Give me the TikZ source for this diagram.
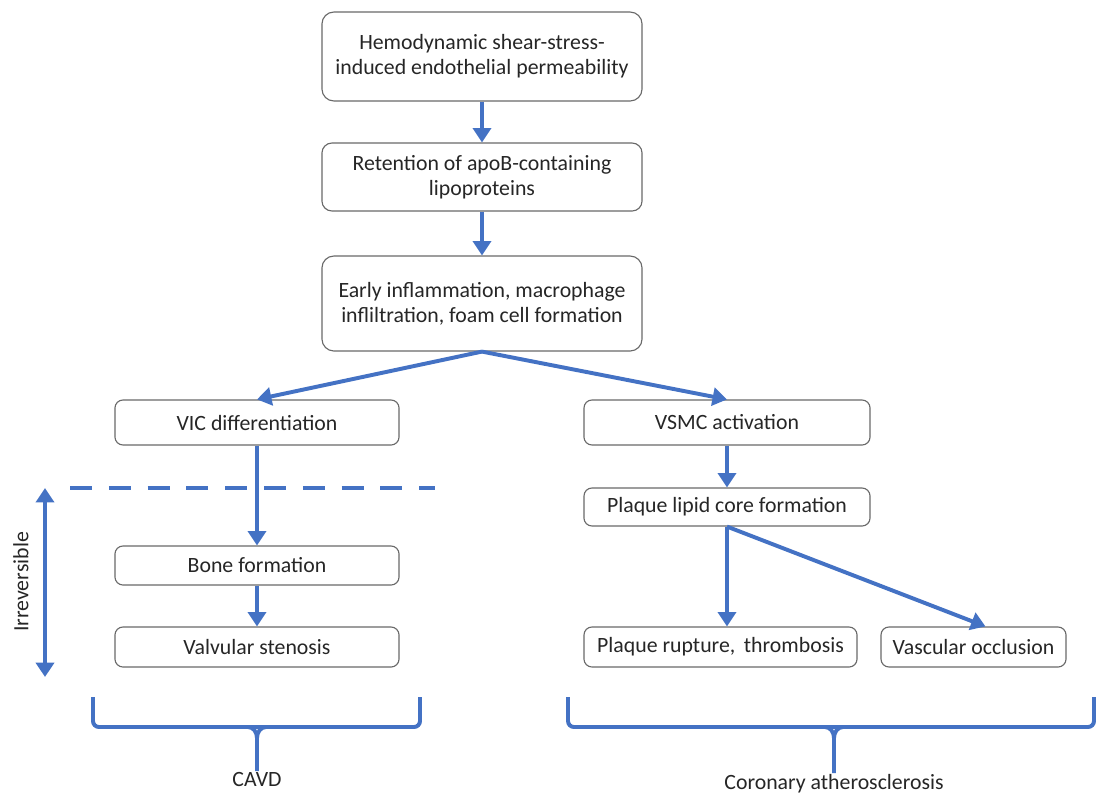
\documentclass[tikz,border=0pt]{standalone}
\usepackage{fontspec}
\setmainfont{Carlito}
\usetikzlibrary{arrows.meta,positioning}
\usepackage{xcolor}
\definecolor{blue}{RGB}{68, 114, 196}
\definecolor{gray}{RGB}{105, 105, 105}
\definecolor{ink}{RGB}{38, 38, 38}

\begin{document}
\begin{tikzpicture}[x=0.025cm, y=-0.025cm,
        box/.style={draw=gray, line width=0.8pt, fill=white, align=center,
            text=ink, font=\fontsize{15.5}{18}\selectfont, inner sep=2pt},
        flow/.style={draw=blue, line width=2.8pt,
            -{Triangle[length=0.36cm, width=0.45cm]}},
        brace/.style={draw=blue, line width=2.8pt, rounded corners=0.15cm},
        label/.style={text=ink, font=\fontsize{15.5}{18}\selectfont, inner sep=1pt}
    ]
            \useasboundingbox (0,0) rectangle (1096,798);

            % main column
            \node (1) [box, rounded corners=0.3cm,
                minimum width=8cm, minimum height=2.225cm] at (482,56.5)
                {Hemodynamic shear-stress-\\induced endothelial permeability};
            \node (2) [box, rounded corners=0.25cm,
                minimum width=8cm, minimum height=1.7cm] at (482,177)
                {Retention of apoB-containing\\lipoproteins};
            \node (3) [box, rounded corners=0.3cm,
                minimum width=8cm, minimum height=2.375cm] at (482,303.5)
                {Early inflammation, macrophage\\infliltration, foam cell formation};

            % CAVD branch
            \node (4) [box, rounded corners=0.2cm,
                minimum width=7.1cm, minimum height=1.125cm] at (257,422.5)
                {VIC differentiation};
            \node (7) [box, rounded corners=0.2cm,
                minimum width=7.1cm, minimum height=0.975cm] at (257,565.5)
                {Bone formation};
            \node (8) [box, rounded corners=0.2cm,
                minimum width=7.1cm, minimum height=1cm] at (257,647)
                {Valvular stenosis};

            % coronary branch
            \node (5) [box, rounded corners=0.2cm,
                minimum width=7.15cm, minimum height=1.125cm] at (727,422.5)
                {VSMC activation};
            \node (6) [box, rounded corners=0.2cm,
                minimum width=7.15cm, minimum height=0.95cm] at (727,507)
                {Plaque lipid core formation};
            \node (9) [box, rounded corners=0.2cm,
                minimum width=6.825cm, minimum height=1cm] at (720.5,647)
                {Plaque rupture,\, thrombosis};
            \node (10) [box, rounded corners=0.2cm,
                minimum width=4.625cm, minimum height=1cm] at (973.5,647)
                {Vascular occlusion};

            \draw[flow] (1) -- (2);
            \draw[flow] (2) -- (3);
            \draw[flow] (3.south) -- (4.north);
            \draw[flow] (3.south) -- (5.north);
            \draw[flow] (4) -- (7);
            \draw[flow] (7) -- (8);
            \draw[flow] (5) -- (6);
            \draw[flow] (6.south) -- (6.south |- 9.north);
            \draw[flow] (6.south) -- ([xshift=0.3cm]10.north);

            % irreversible stage
            \draw[draw=blue, line width=2.8pt, dash pattern=on 0.55cm off 0.42cm]
                (70,488) -- (435,488);
            \coordinate (irr top) at (45,488);
            \coordinate (irr bottom) at (45,677);
            \draw[draw=blue, line width=2.8pt,
                {Triangle[length=0.36cm, width=0.45cm]}-{Triangle[length=0.36cm, width=0.45cm]}]
                (irr top) -- (irr bottom);
            \node (irr) [label, rotate=90] at (21,582) {Irreversible};

            % braces
            \node (cavd) [label, anchor=north] at (257,771) {CAVD};
            \draw[brace] (93,697) -- (93,727) -- (420,727) -- (420,697);
            \draw[draw=blue, line width=2.8pt] (248,727) to[out=0, in=90] (257,738)
                -- (cavd.north);
            \draw[draw=blue, line width=2.8pt] (266,727) to[out=180, in=90] (257,738);

            \node (cor) [label, anchor=north] at (834,773) {Coronary atherosclerosis};
            \draw[brace] (568,697) -- (568,727) -- (1094,727) -- (1094,697);
            \draw[draw=blue, line width=2.8pt] (825,727) to[out=0, in=90] (834,738)
                -- (cor.north);
            \draw[draw=blue, line width=2.8pt] (843,727) to[out=180, in=90] (834,738);
\end{tikzpicture}
\end{document}
